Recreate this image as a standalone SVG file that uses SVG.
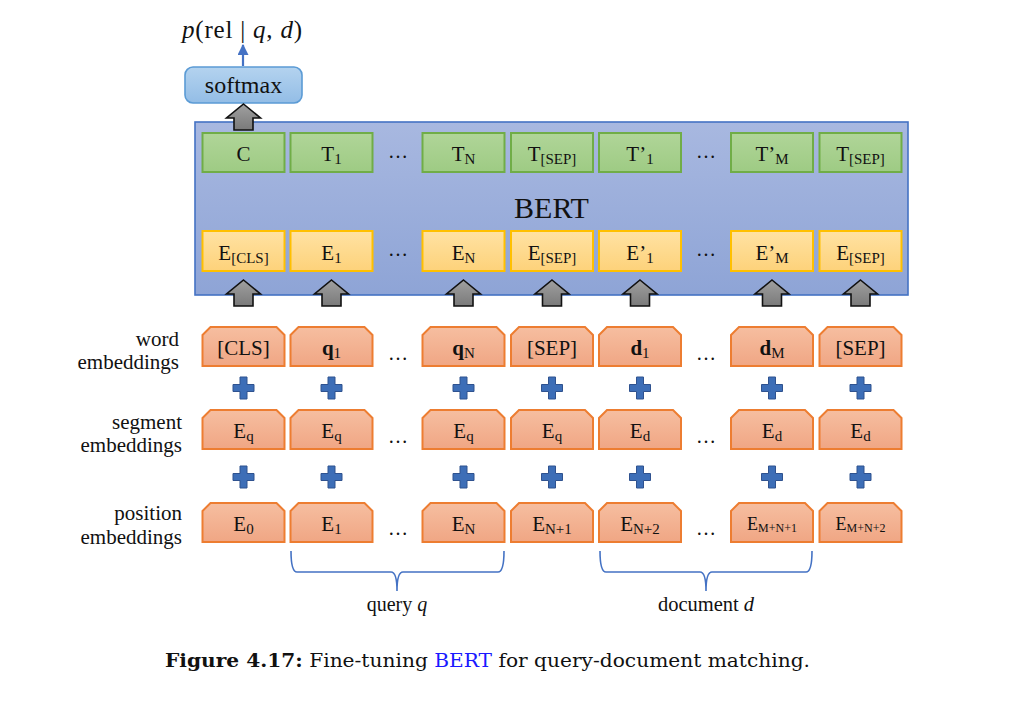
<svg xmlns="http://www.w3.org/2000/svg" xmlns:xlink="http://www.w3.org/1999/xlink" width="1015" height="702" viewBox="0 0 1015 702">
<style>
text{font-family:"Liberation Serif","Times New Roman",serif;fill:#111}
.lbl{font-size:21px;text-anchor:middle}
.sub{font-size:15px}
.ssub{font-size:12px}
.side{font-size:21px;text-anchor:end}
.dots{font-size:20px;text-anchor:middle}
.green{fill:url(#gg);stroke:#70ad47;stroke-width:2}
.yellow{fill:url(#gy);stroke:#ffc000;stroke-width:2}
.orange{fill:url(#go);stroke:#ed7d31;stroke-width:2}
.brace{fill:none;stroke:#4472c4;stroke-width:1.6}
</style>
<defs>
<linearGradient id="gb" x1="0" y1="0" x2="0" y2="1"><stop offset="0" stop-color="#a8b8e0"/><stop offset="1" stop-color="#8ea4d6"/></linearGradient>
<linearGradient id="gg" x1="0" y1="0" x2="0" y2="1"><stop offset="0" stop-color="#b0d598"/><stop offset="1" stop-color="#9ecb84"/></linearGradient>
<linearGradient id="gy" x1="0" y1="0" x2="0" y2="1"><stop offset="0" stop-color="#ffe2a3"/><stop offset="1" stop-color="#fdd27a"/></linearGradient>
<linearGradient id="go" x1="0" y1="0" x2="0" y2="1"><stop offset="0" stop-color="#f6bea0"/><stop offset="1" stop-color="#f0a684"/></linearGradient>
<linearGradient id="gs" x1="0" y1="0" x2="0" y2="1"><stop offset="0" stop-color="#b4d3ef"/><stop offset="1" stop-color="#93bde6"/></linearGradient>
<linearGradient id="ga" x1="0" y1="0" x2="0" y2="1"><stop offset="0" stop-color="#a0a0a0"/><stop offset="1" stop-color="#7a7a7a"/></linearGradient>
<path id="garrow" d="M0,0 L17,14 L9.5,14 L9.5,26 L-9.5,26 L-9.5,14 L-17,14 Z" fill="url(#ga)" stroke="#111" stroke-width="1.6" stroke-linejoin="miter"/>
<path id="plus" d="M-3.5,-11 L3.5,-11 L3.5,-3.5 L10.5,-3.5 L10.5,3.5 L3.5,3.5 L3.5,11 L-3.5,11 L-3.5,3.5 L-10.5,3.5 L-10.5,-3.5 L-3.5,-3.5 Z" fill="#3d6eb7" stroke="#2f528f" stroke-width="1"/>
<path id="obox" d="M-41,8 L-33,0 L33,0 L41,8 L41,39 L-41,39 Z"/>
<marker id="barrow" viewBox="0 0 10 10" refX="9" refY="5" markerWidth="11" markerHeight="11" markerUnits="userSpaceOnUse" orient="auto"><path d="M0,0 L10,5 L0,10 Z" fill="#4472c4"/></marker>
</defs>

<!-- output formula -->
<g id="output">
<text x="182" y="38" style="font-size:25px" textLength="120"><tspan font-style="italic">p</tspan>(rel | <tspan font-style="italic">q</tspan>, <tspan font-style="italic">d</tspan>)</text>
</g>

<!-- BERT container -->
<g id="bert">
<rect x="195" y="122" width="713" height="173" fill="url(#gb)" stroke="#4472c4" stroke-width="1.6"/>
<text x="551.5" y="218" style="font-size:30px;text-anchor:middle">BERT</text>
</g>

<!-- softmax -->
<g id="softmax">
<rect x="185" y="67" width="117" height="36" rx="8" fill="url(#gs)" stroke="#5b9bd5" stroke-width="1.6"/>
<text x="243.5" y="93" style="font-size:24px;text-anchor:middle">softmax</text>
</g>

<!-- connectors -->
<g id="connectors">
<line x1="243" y1="66" x2="243" y2="45" stroke="#4472c4" stroke-width="2.2" marker-end="url(#barrow)"/>
<use href="#garrow" x="243.5" y="104"/>
<use href="#garrow" x="243.5" y="280"/>
<use href="#garrow" x="331.5" y="280"/>
<use href="#garrow" x="463.5" y="280"/>
<use href="#garrow" x="552" y="280"/>
<use href="#garrow" x="640" y="280"/>
<use href="#garrow" x="772" y="280"/>
<use href="#garrow" x="860.5" y="280"/>
<g id="plus-row1">
<use href="#plus" x="243.5" y="388"/><use href="#plus" x="331.5" y="388"/><use href="#plus" x="463.5" y="388"/><use href="#plus" x="552" y="388"/><use href="#plus" x="640" y="388"/><use href="#plus" x="772" y="388"/><use href="#plus" x="860.5" y="388"/>
</g>
<g id="plus-row2">
<use href="#plus" x="243.5" y="477"/><use href="#plus" x="331.5" y="477"/><use href="#plus" x="463.5" y="477"/><use href="#plus" x="552" y="477"/><use href="#plus" x="640" y="477"/><use href="#plus" x="772" y="477"/><use href="#plus" x="860.5" y="477"/>
</g>
<path class="brace" d="M291,551 Q291,572 297,572 L391,572 Q397,572 397,591 Q397,572 403,572 L498,572 Q504,572 504,551"/>
<path class="brace" d="M600,551 Q600,572 606,572 L700,572 Q706,572 706,591 Q706,572 712,572 L806,572 Q812,572 812,551"/>
</g>

<!-- green output row -->
<g id="out-C"><rect class="green" x="202.5" y="133" width="82" height="39"/><text class="lbl" x="243.5" y="161">C</text></g>
<g id="out-T1"><rect class="green" x="290.5" y="133" width="82" height="39"/><text class="lbl" x="331.5" y="161">T<tspan class="sub" dy="3">1</tspan></text></g>
<g id="out-TN"><rect class="green" x="422.5" y="133" width="82" height="39"/><text class="lbl" x="463.5" y="161">T<tspan class="sub" dy="3">N</tspan></text></g>
<g id="out-TSEP"><rect class="green" x="511" y="133" width="82" height="39"/><text class="lbl" x="552" y="161">T<tspan class="sub" dy="3">[SEP]</tspan></text></g>
<g id="out-T1p"><rect class="green" x="599" y="133" width="82" height="39"/><text class="lbl" x="640" y="161">T’<tspan class="sub" dy="3">1</tspan></text></g>
<g id="out-TMp"><rect class="green" x="731" y="133" width="82" height="39"/><text class="lbl" x="772" y="161">T’<tspan class="sub" dy="3">M</tspan></text></g>
<g id="out-TSEP2"><rect class="green" x="819.5" y="133" width="82" height="39"/><text class="lbl" x="860.5" y="161">T<tspan class="sub" dy="3">[SEP]</tspan></text></g>
<text class="dots" x="398" y="158">…</text>
<text class="dots" x="706" y="158">…</text>

<!-- yellow input-embedding row -->
<g id="in-ECLS"><rect class="yellow" x="202.5" y="231" width="82" height="40"/><text class="lbl" x="243.5" y="260">E<tspan class="sub" dy="3">[CLS]</tspan></text></g>
<g id="in-E1"><rect class="yellow" x="290.5" y="231" width="82" height="40"/><text class="lbl" x="331.5" y="260">E<tspan class="sub" dy="3">1</tspan></text></g>
<g id="in-EN"><rect class="yellow" x="422.5" y="231" width="82" height="40"/><text class="lbl" x="463.5" y="260">E<tspan class="sub" dy="3">N</tspan></text></g>
<g id="in-ESEP"><rect class="yellow" x="511" y="231" width="82" height="40"/><text class="lbl" x="552" y="260">E<tspan class="sub" dy="3">[SEP]</tspan></text></g>
<g id="in-E1p"><rect class="yellow" x="599" y="231" width="82" height="40"/><text class="lbl" x="640" y="260">E’<tspan class="sub" dy="3">1</tspan></text></g>
<g id="in-EMp"><rect class="yellow" x="731" y="231" width="82" height="40"/><text class="lbl" x="772" y="260">E’<tspan class="sub" dy="3">M</tspan></text></g>
<g id="in-ESEP2"><rect class="yellow" x="819.5" y="231" width="82" height="40"/><text class="lbl" x="860.5" y="260">E<tspan class="sub" dy="3">[SEP]</tspan></text></g>
<text class="dots" x="398" y="256">…</text>
<text class="dots" x="706" y="256">…</text>

<!-- row labels -->
<g id="labels">
<text class="side" x="179" y="346">word</text>
<text class="side" x="179" y="369">embeddings</text>
<text class="side" x="182" y="429">segment</text>
<text class="side" x="182" y="452">embeddings</text>
<text class="side" x="182" y="520">position</text>
<text class="side" x="182" y="544">embeddings</text>
</g>

<!-- word embeddings -->
<g id="w-CLS"><use href="#obox" class="orange" x="243.5" y="327"/><text class="lbl" x="243.5" y="355">[CLS]</text></g>
<g id="w-q1"><use href="#obox" class="orange" x="331.5" y="327"/><text class="lbl" x="331.5" y="355"><tspan font-weight="bold">q</tspan><tspan class="sub" dy="3">1</tspan></text></g>
<g id="w-qN"><use href="#obox" class="orange" x="463.5" y="327"/><text class="lbl" x="463.5" y="355"><tspan font-weight="bold">q</tspan><tspan class="sub" dy="3">N</tspan></text></g>
<g id="w-SEP"><use href="#obox" class="orange" x="552" y="327"/><text class="lbl" x="552" y="355">[SEP]</text></g>
<g id="w-d1"><use href="#obox" class="orange" x="640" y="327"/><text class="lbl" x="640" y="355"><tspan font-weight="bold">d</tspan><tspan class="sub" dy="3">1</tspan></text></g>
<g id="w-dM"><use href="#obox" class="orange" x="772" y="327"/><text class="lbl" x="772" y="355"><tspan font-weight="bold">d</tspan><tspan class="sub" dy="3">M</tspan></text></g>
<g id="w-SEP2"><use href="#obox" class="orange" x="860.5" y="327"/><text class="lbl" x="860.5" y="355">[SEP]</text></g>
<text class="dots" x="398" y="360">…</text>
<text class="dots" x="706" y="360">…</text>

<!-- segment embeddings -->
<g id="s-1"><use href="#obox" class="orange" x="243.5" y="410"/><text class="lbl" x="243.5" y="438">E<tspan class="sub" dy="3">q</tspan></text></g>
<g id="s-2"><use href="#obox" class="orange" x="331.5" y="410"/><text class="lbl" x="331.5" y="438">E<tspan class="sub" dy="3">q</tspan></text></g>
<g id="s-3"><use href="#obox" class="orange" x="463.5" y="410"/><text class="lbl" x="463.5" y="438">E<tspan class="sub" dy="3">q</tspan></text></g>
<g id="s-4"><use href="#obox" class="orange" x="552" y="410"/><text class="lbl" x="552" y="438">E<tspan class="sub" dy="3">q</tspan></text></g>
<g id="s-5"><use href="#obox" class="orange" x="640" y="410"/><text class="lbl" x="640" y="438">E<tspan class="sub" dy="3">d</tspan></text></g>
<g id="s-6"><use href="#obox" class="orange" x="772" y="410"/><text class="lbl" x="772" y="438">E<tspan class="sub" dy="3">d</tspan></text></g>
<g id="s-7"><use href="#obox" class="orange" x="860.5" y="410"/><text class="lbl" x="860.5" y="438">E<tspan class="sub" dy="3">d</tspan></text></g>
<text class="dots" x="398" y="443">…</text>
<text class="dots" x="706" y="443">…</text>

<!-- position embeddings -->
<g id="p-0"><use href="#obox" class="orange" x="243.5" y="503"/><text class="lbl" x="243.5" y="531">E<tspan class="sub" dy="3">0</tspan></text></g>
<g id="p-1"><use href="#obox" class="orange" x="331.5" y="503"/><text class="lbl" x="331.5" y="531">E<tspan class="sub" dy="3">1</tspan></text></g>
<g id="p-N"><use href="#obox" class="orange" x="463.5" y="503"/><text class="lbl" x="463.5" y="531">E<tspan class="sub" dy="3">N</tspan></text></g>
<g id="p-N1"><use href="#obox" class="orange" x="552" y="503"/><text class="lbl" x="552" y="531">E<tspan class="sub" dy="3">N+1</tspan></text></g>
<g id="p-N2"><use href="#obox" class="orange" x="640" y="503"/><text class="lbl" x="640" y="531">E<tspan class="sub" dy="3">N+2</tspan></text></g>
<g id="p-MN1"><use href="#obox" class="orange" x="772" y="503"/><text class="lbl" x="772" y="530" style="font-size:18px">E<tspan class="ssub" dy="2">M+N+1</tspan></text></g>
<g id="p-MN2"><use href="#obox" class="orange" x="860.5" y="503"/><text class="lbl" x="860.5" y="530" style="font-size:18px">E<tspan class="ssub" dy="2">M+N+2</tspan></text></g>
<text class="dots" x="398" y="535">…</text>
<text class="dots" x="706" y="535">…</text>

<!-- brace labels -->
<g id="brace-labels">
<text x="397" y="611" style="font-size:20px;text-anchor:middle">query <tspan font-style="italic">q</tspan></text>
<text x="706" y="611" style="font-size:20.5px;text-anchor:middle">document <tspan font-style="italic">d</tspan></text>
</g>

<!-- caption -->
<g id="caption">
<text x="165" y="667" style="font-family:'DejaVu Serif',serif;font-size:18px" textLength="645" lengthAdjust="spacingAndGlyphs"><tspan font-weight="bold">Figure 4.17:</tspan> Fine-tuning <tspan fill="#1a1aff">BERT</tspan> for query-document matching.</text>
</g>
</svg>
